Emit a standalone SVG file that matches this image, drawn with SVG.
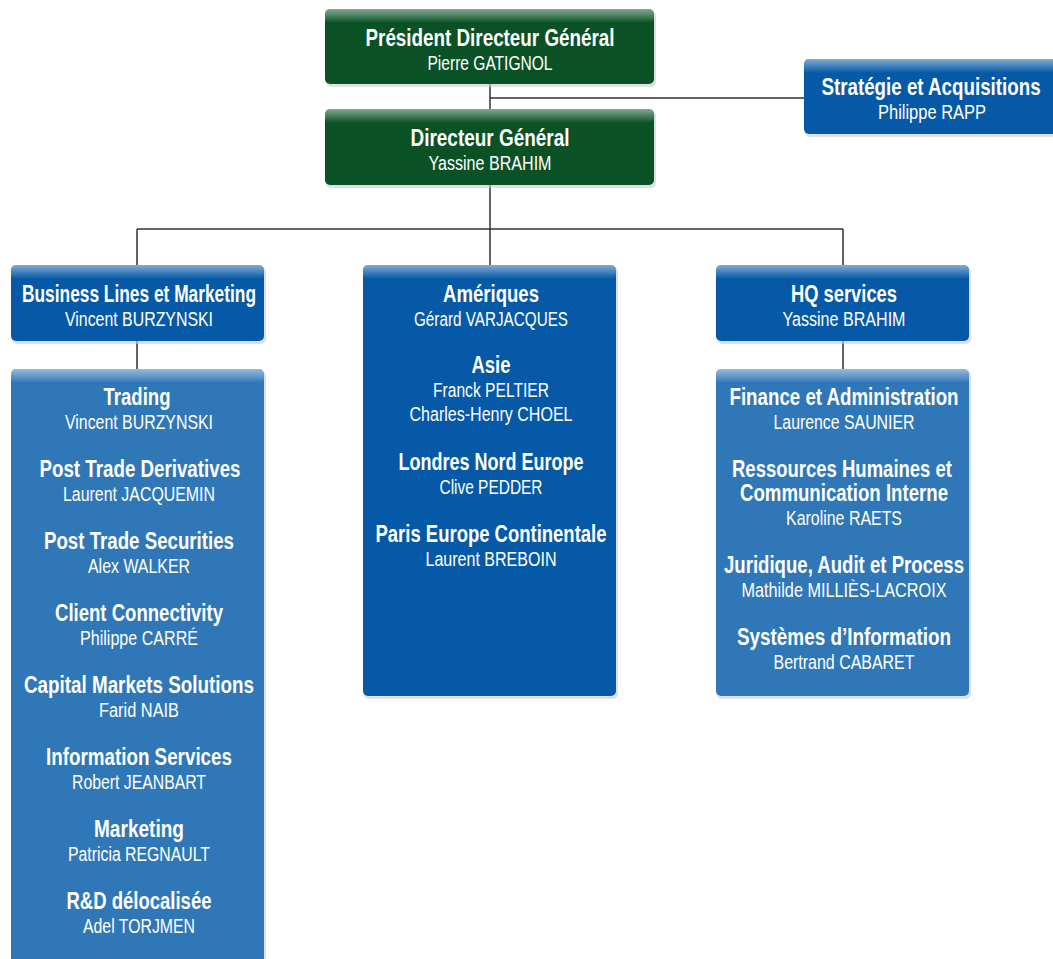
<svg xmlns="http://www.w3.org/2000/svg" width="1053" height="959" viewBox="0 0 1053 959">
<defs>
<linearGradient id="hl" x1="0" y1="0" x2="0" y2="1">
<stop offset="0" stop-color="#ffffff" stop-opacity="0.5"/>
<stop offset="1" stop-color="#ffffff" stop-opacity="0"/>
</linearGradient>
</defs>
<style>
.green{fill:#0a5226}
.dblue{fill:#0659a6}
.lblue{fill:#3077b8}
.sh{fill:#c9ccd2;opacity:0.6}
.hl{fill:url(#hl)}
.t{font-family:"Liberation Sans",Arial,sans-serif;font-weight:bold;font-size:23px;fill:#ffffff;text-anchor:middle}
.s{font-family:"Liberation Sans",Arial,sans-serif;font-size:19.5px;fill:#ffffff;text-anchor:middle}
.ln{stroke:#333333;stroke-width:1.5;fill:none}
</style>
<rect width="1053" height="959" fill="#ffffff"/>
<g id="connectors">
<path class="ln" d="M490 84V109M490 98H804M490 185V229M137 229H843M137 229V265M490 229V265M843 229V265M137 341V369M843 341V369"/>
</g>
<g id="pdg">
<rect class="sh" x="326" y="11" width="330" height="76" rx="5"/>
<rect class="green" x="325" y="9" width="329" height="75" rx="5"/>
<rect class="hl" x="325" y="9" width="329" height="14" rx="5"/>
<text class="t" x="490" y="46" textLength="249" lengthAdjust="spacingAndGlyphs">Président Directeur Général</text>
<text class="s" x="490" y="70" textLength="125" lengthAdjust="spacingAndGlyphs">Pierre GATIGNOL</text>
</g>
<g id="dg">
<rect class="sh" x="326" y="111" width="330" height="77" rx="5"/>
<rect class="green" x="325" y="109" width="329" height="76" rx="5"/>
<rect class="hl" x="325" y="109" width="329" height="14" rx="5"/>
<text class="t" x="490" y="146" textLength="159" lengthAdjust="spacingAndGlyphs">Directeur Général</text>
<text class="s" x="490" y="170" textLength="123" lengthAdjust="spacingAndGlyphs">Yassine BRAHIM</text>
</g>
<g id="strategie">
<rect class="sh" x="805" y="61" width="260" height="76" rx="5"/>
<rect class="dblue" x="804" y="59" width="260" height="75" rx="5"/>
<rect class="hl" x="804" y="59" width="260" height="14" rx="5"/>
<text class="t" transform="translate(931 95) scale(0.8 1)" x="0" y="0" textLength="274" lengthAdjust="spacingAndGlyphs">Stratégie et Acquisitions</text>
<text class="s" x="932" y="119" textLength="108" lengthAdjust="spacingAndGlyphs">Philippe RAPP</text>
</g>
<g id="business">
<rect class="sh" x="12" y="267" width="254" height="77" rx="5"/>
<rect class="dblue" x="11" y="265" width="253" height="76" rx="5"/>
<rect class="hl" x="11" y="265" width="253" height="14" rx="5"/>
<text class="t" x="139" y="302" textLength="234" lengthAdjust="spacingAndGlyphs">Business Lines et Marketing</text>
<text class="s" x="139" y="326" textLength="148" lengthAdjust="spacingAndGlyphs">Vincent BURZYNSKI</text>
</g>
<g id="regions">
<rect class="sh" x="364" y="267" width="254" height="432" rx="5"/>
<rect class="dblue" x="363" y="265" width="253" height="431" rx="5"/>
<rect class="hl" x="363" y="265" width="253" height="14" rx="5"/>
<text class="t" x="491" y="302" textLength="96" lengthAdjust="spacingAndGlyphs">Amériques</text>
<text class="s" x="491" y="326" textLength="154" lengthAdjust="spacingAndGlyphs">Gérard VARJACQUES</text>
<text class="t" x="491" y="373" textLength="39" lengthAdjust="spacingAndGlyphs">Asie</text>
<text class="s" x="491" y="397" textLength="116" lengthAdjust="spacingAndGlyphs">Franck PELTIER</text>
<text class="s" x="491" y="421" textLength="163" lengthAdjust="spacingAndGlyphs">Charles-Henry CHOEL</text>
<text class="t" x="491" y="470" textLength="185" lengthAdjust="spacingAndGlyphs">Londres Nord Europe</text>
<text class="s" x="491" y="494" textLength="103" lengthAdjust="spacingAndGlyphs">Clive PEDDER</text>
<text class="t" x="491" y="542" textLength="231" lengthAdjust="spacingAndGlyphs">Paris Europe Continentale</text>
<text class="s" x="491" y="566" textLength="131" lengthAdjust="spacingAndGlyphs">Laurent BREBOIN</text>
</g>
<g id="hq">
<rect class="sh" x="717" y="267" width="254" height="77" rx="5"/>
<rect class="dblue" x="716" y="265" width="253" height="76" rx="5"/>
<rect class="hl" x="716" y="265" width="253" height="14" rx="5"/>
<text class="t" x="844" y="302" textLength="106" lengthAdjust="spacingAndGlyphs">HQ services</text>
<text class="s" x="844" y="326" textLength="123" lengthAdjust="spacingAndGlyphs">Yassine BRAHIM</text>
</g>
<g id="hq-list">
<rect class="sh" x="717" y="371" width="254" height="328" rx="5"/>
<rect class="lblue" x="716" y="369" width="253" height="327" rx="5"/>
<rect class="hl" x="716" y="369" width="253" height="14" rx="5"/>
<text class="t" x="844" y="405" textLength="229" lengthAdjust="spacingAndGlyphs">Finance et Administration</text>
<text class="s" x="844" y="429" textLength="141" lengthAdjust="spacingAndGlyphs">Laurence SAUNIER</text>
<text class="t" x="842" y="477" textLength="220" lengthAdjust="spacingAndGlyphs">Ressources Humaines et</text>
<text class="t" x="844" y="501" textLength="208" lengthAdjust="spacingAndGlyphs">Communication Interne</text>
<text class="s" x="844" y="525" textLength="116" lengthAdjust="spacingAndGlyphs">Karoline RAETS</text>
<text class="t" x="844" y="573" textLength="240" lengthAdjust="spacingAndGlyphs">Juridique, Audit et Process</text>
<text class="s" x="844" y="597" textLength="205" lengthAdjust="spacingAndGlyphs">Mathilde MILLIÈS-LACROIX</text>
<text class="t" x="844" y="645" textLength="214" lengthAdjust="spacingAndGlyphs">Systèmes d’Information</text>
<text class="s" x="844" y="669" textLength="141" lengthAdjust="spacingAndGlyphs">Bertrand CABARET</text>
</g>
<g id="business-list">
<rect class="sh" x="12" y="371" width="254" height="600" rx="5"/>
<rect class="lblue" x="11" y="369" width="253" height="600" rx="5"/>
<rect class="hl" x="11" y="369" width="253" height="14" rx="5"/>
<text class="t" x="137" y="405" textLength="67" lengthAdjust="spacingAndGlyphs">Trading</text>
<text class="s" x="139" y="429" textLength="148" lengthAdjust="spacingAndGlyphs">Vincent BURZYNSKI</text>
<text class="t" x="140" y="477" textLength="201" lengthAdjust="spacingAndGlyphs">Post Trade Derivatives</text>
<text class="s" x="139" y="501" textLength="152" lengthAdjust="spacingAndGlyphs">Laurent JACQUEMIN</text>
<text class="t" x="139" y="549" textLength="190" lengthAdjust="spacingAndGlyphs">Post Trade Securities</text>
<text class="s" x="139" y="573" textLength="102" lengthAdjust="spacingAndGlyphs">Alex WALKER</text>
<text class="t" x="139" y="621" textLength="168" lengthAdjust="spacingAndGlyphs">Client Connectivity</text>
<text class="s" x="139" y="645" textLength="118" lengthAdjust="spacingAndGlyphs">Philippe CARRÉ</text>
<text class="t" x="139" y="693" textLength="230" lengthAdjust="spacingAndGlyphs">Capital Markets Solutions</text>
<text class="s" x="139" y="717" textLength="80" lengthAdjust="spacingAndGlyphs">Farid NAIB</text>
<text class="t" x="139" y="765" textLength="186" lengthAdjust="spacingAndGlyphs">Information Services</text>
<text class="s" x="139" y="789" textLength="134" lengthAdjust="spacingAndGlyphs">Robert JEANBART</text>
<text class="t" x="139" y="837" textLength="90" lengthAdjust="spacingAndGlyphs">Marketing</text>
<text class="s" x="139" y="861" textLength="142" lengthAdjust="spacingAndGlyphs">Patricia REGNAULT</text>
<text class="t" x="139" y="909" textLength="145" lengthAdjust="spacingAndGlyphs">R&amp;D délocalisée</text>
<text class="s" x="139" y="933" textLength="112" lengthAdjust="spacingAndGlyphs">Adel TORJMEN</text>
</g>
</svg>
